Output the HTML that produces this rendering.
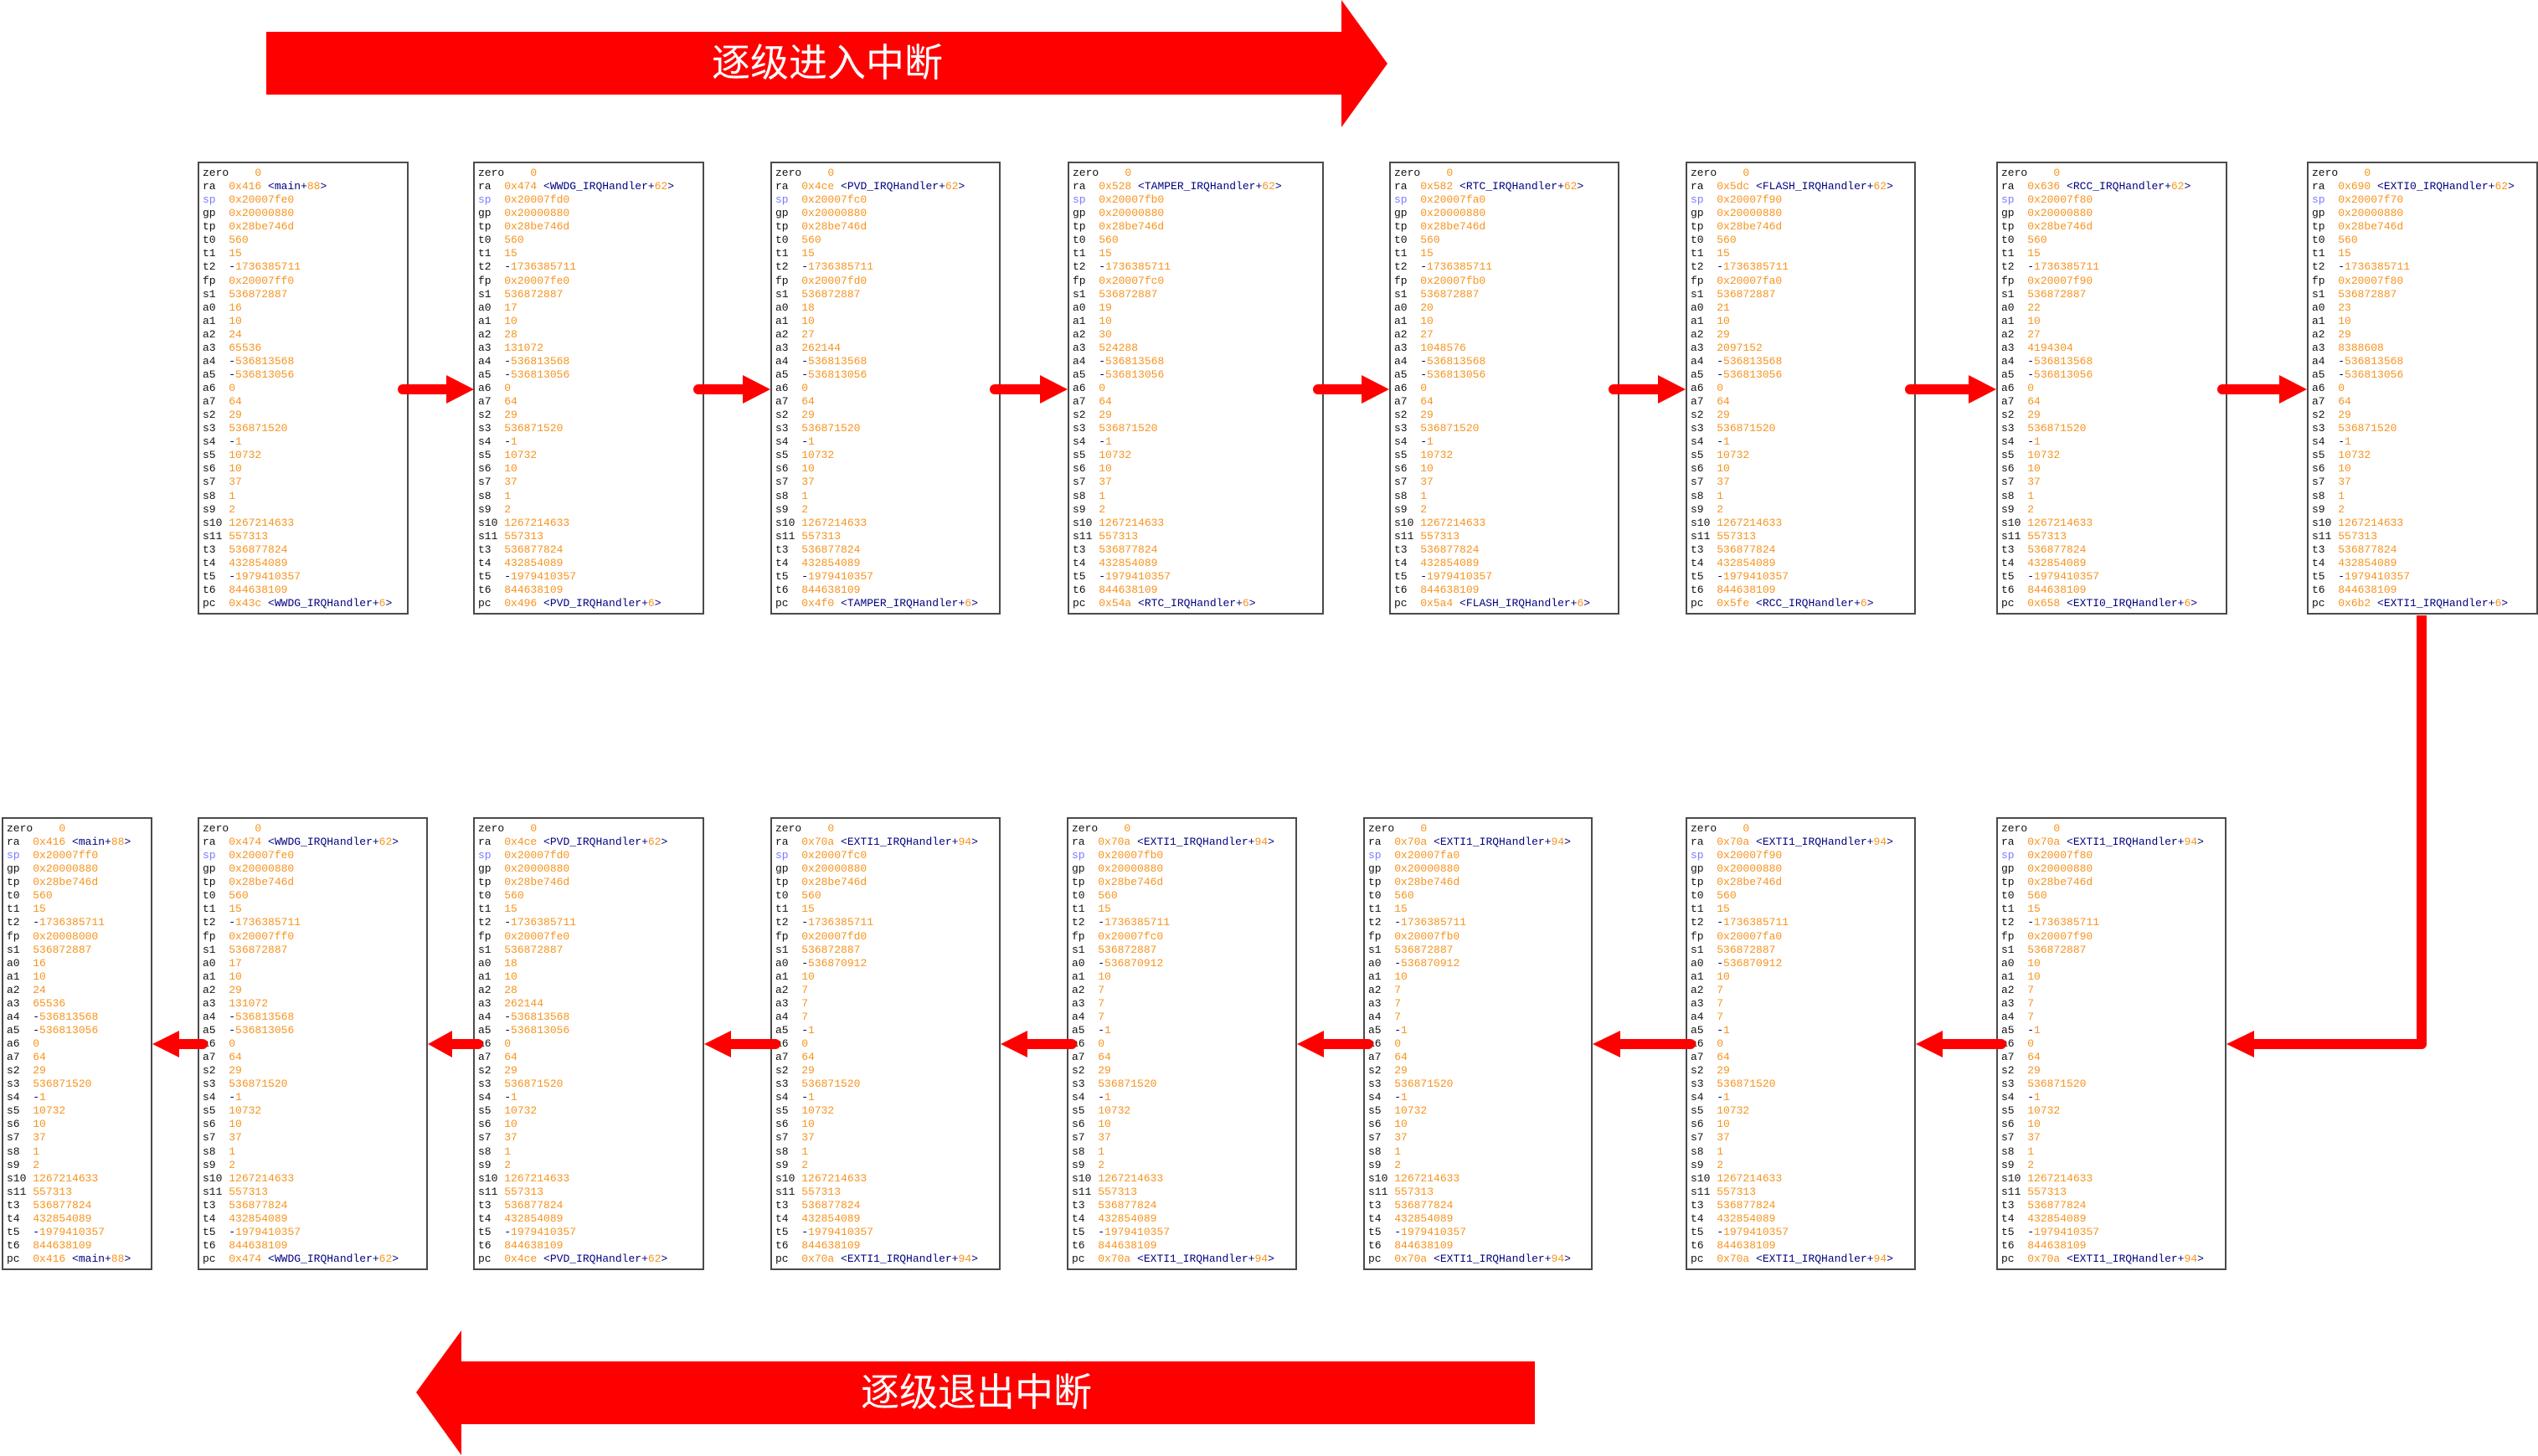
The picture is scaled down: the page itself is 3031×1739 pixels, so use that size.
<!DOCTYPE html>
<html><head><meta charset="utf-8">
<style>
html,body{margin:0;padding:0;background:#fff;}
body{width:3031px;height:1739px;position:relative;overflow:hidden;}
.p{position:absolute;box-sizing:border-box;height:541px;border:2px solid #4a4a4a;background:#fff;
font-family:"Liberation Mono","DejaVu Sans Mono",monospace;font-size:13px;line-height:16.06px;
white-space:pre;color:#111;padding:4px 0 0 4px;}
.t{top:193px}.b{top:976px}
i{font-style:normal;color:#f7931e}
b{font-weight:normal;color:#00007f}
u{text-decoration:none;color:#7b7bff}
svg{position:absolute;left:0;top:0}
.big{position:absolute;color:#fff;font-family:"Liberation Sans","Noto Sans CJK SC",sans-serif;font-size:46px;line-height:50px;white-space:nowrap;transform:translate(-50%,-50%);}
</style></head><body>

<!-- TOP ROW -->
<div class="p t" style="left:236px;width:252px">zero    <i>0</i>
ra  <i>0x416</i> <b>&lt;main+</b><i>88</i><b>&gt;</b>
<u>sp</u>  <i>0x20007fe0</i>
gp  <i>0x20000880</i>
tp  <i>0x28be746d</i>
t0  <i>560</i>
t1  <i>15</i>
t2  <b>-</b><i>1736385711</i>
fp  <i>0x20007ff0</i>
s1  <i>536872887</i>
a0  <i>16</i>
a1  <i>10</i>
a2  <i>24</i>
a3  <i>65536</i>
a4  <b>-</b><i>536813568</i>
a5  <b>-</b><i>536813056</i>
a6  <i>0</i>
a7  <i>64</i>
s2  <i>29</i>
s3  <i>536871520</i>
s4  <b>-</b><i>1</i>
s5  <i>10732</i>
s6  <i>10</i>
s7  <i>37</i>
s8  <i>1</i>
s9  <i>2</i>
s10 <i>1267214633</i>
s11 <i>557313</i>
t3  <i>536877824</i>
t4  <i>432854089</i>
t5  <b>-</b><i>1979410357</i>
t6  <i>844638109</i>
pc  <i>0x43c</i> <b>&lt;WWDG_IRQHandler+</b><i>6</i><b>&gt;</b></div>

<div class="p t" style="left:565px;width:276px">zero    <i>0</i>
ra  <i>0x474</i> <b>&lt;WWDG_IRQHandler+</b><i>62</i><b>&gt;</b>
<u>sp</u>  <i>0x20007fd0</i>
gp  <i>0x20000880</i>
tp  <i>0x28be746d</i>
t0  <i>560</i>
t1  <i>15</i>
t2  <b>-</b><i>1736385711</i>
fp  <i>0x20007fe0</i>
s1  <i>536872887</i>
a0  <i>17</i>
a1  <i>10</i>
a2  <i>28</i>
a3  <i>131072</i>
a4  <b>-</b><i>536813568</i>
a5  <b>-</b><i>536813056</i>
a6  <i>0</i>
a7  <i>64</i>
s2  <i>29</i>
s3  <i>536871520</i>
s4  <b>-</b><i>1</i>
s5  <i>10732</i>
s6  <i>10</i>
s7  <i>37</i>
s8  <i>1</i>
s9  <i>2</i>
s10 <i>1267214633</i>
s11 <i>557313</i>
t3  <i>536877824</i>
t4  <i>432854089</i>
t5  <b>-</b><i>1979410357</i>
t6  <i>844638109</i>
pc  <i>0x496</i> <b>&lt;PVD_IRQHandler+</b><i>6</i><b>&gt;</b></div>

<div class="p t" style="left:920px;width:275px">zero    <i>0</i>
ra  <i>0x4ce</i> <b>&lt;PVD_IRQHandler+</b><i>62</i><b>&gt;</b>
<u>sp</u>  <i>0x20007fc0</i>
gp  <i>0x20000880</i>
tp  <i>0x28be746d</i>
t0  <i>560</i>
t1  <i>15</i>
t2  <b>-</b><i>1736385711</i>
fp  <i>0x20007fd0</i>
s1  <i>536872887</i>
a0  <i>18</i>
a1  <i>10</i>
a2  <i>27</i>
a3  <i>262144</i>
a4  <b>-</b><i>536813568</i>
a5  <b>-</b><i>536813056</i>
a6  <i>0</i>
a7  <i>64</i>
s2  <i>29</i>
s3  <i>536871520</i>
s4  <b>-</b><i>1</i>
s5  <i>10732</i>
s6  <i>10</i>
s7  <i>37</i>
s8  <i>1</i>
s9  <i>2</i>
s10 <i>1267214633</i>
s11 <i>557313</i>
t3  <i>536877824</i>
t4  <i>432854089</i>
t5  <b>-</b><i>1979410357</i>
t6  <i>844638109</i>
pc  <i>0x4f0</i> <b>&lt;TAMPER_IRQHandler+</b><i>6</i><b>&gt;</b></div>

<div class="p t" style="left:1275px;width:306px">zero    <i>0</i>
ra  <i>0x528</i> <b>&lt;TAMPER_IRQHandler+</b><i>62</i><b>&gt;</b>
<u>sp</u>  <i>0x20007fb0</i>
gp  <i>0x20000880</i>
tp  <i>0x28be746d</i>
t0  <i>560</i>
t1  <i>15</i>
t2  <b>-</b><i>1736385711</i>
fp  <i>0x20007fc0</i>
s1  <i>536872887</i>
a0  <i>19</i>
a1  <i>10</i>
a2  <i>30</i>
a3  <i>524288</i>
a4  <b>-</b><i>536813568</i>
a5  <b>-</b><i>536813056</i>
a6  <i>0</i>
a7  <i>64</i>
s2  <i>29</i>
s3  <i>536871520</i>
s4  <b>-</b><i>1</i>
s5  <i>10732</i>
s6  <i>10</i>
s7  <i>37</i>
s8  <i>1</i>
s9  <i>2</i>
s10 <i>1267214633</i>
s11 <i>557313</i>
t3  <i>536877824</i>
t4  <i>432854089</i>
t5  <b>-</b><i>1979410357</i>
t6  <i>844638109</i>
pc  <i>0x54a</i> <b>&lt;RTC_IRQHandler+</b><i>6</i><b>&gt;</b></div>

<div class="p t" style="left:1659px;width:275px">zero    <i>0</i>
ra  <i>0x582</i> <b>&lt;RTC_IRQHandler+</b><i>62</i><b>&gt;</b>
<u>sp</u>  <i>0x20007fa0</i>
gp  <i>0x20000880</i>
tp  <i>0x28be746d</i>
t0  <i>560</i>
t1  <i>15</i>
t2  <b>-</b><i>1736385711</i>
fp  <i>0x20007fb0</i>
s1  <i>536872887</i>
a0  <i>20</i>
a1  <i>10</i>
a2  <i>27</i>
a3  <i>1048576</i>
a4  <b>-</b><i>536813568</i>
a5  <b>-</b><i>536813056</i>
a6  <i>0</i>
a7  <i>64</i>
s2  <i>29</i>
s3  <i>536871520</i>
s4  <b>-</b><i>1</i>
s5  <i>10732</i>
s6  <i>10</i>
s7  <i>37</i>
s8  <i>1</i>
s9  <i>2</i>
s10 <i>1267214633</i>
s11 <i>557313</i>
t3  <i>536877824</i>
t4  <i>432854089</i>
t5  <b>-</b><i>1979410357</i>
t6  <i>844638109</i>
pc  <i>0x5a4</i> <b>&lt;FLASH_IRQHandler+</b><i>6</i><b>&gt;</b></div>

<div class="p t" style="left:2013px;width:275px">zero    <i>0</i>
ra  <i>0x5dc</i> <b>&lt;FLASH_IRQHandler+</b><i>62</i><b>&gt;</b>
<u>sp</u>  <i>0x20007f90</i>
gp  <i>0x20000880</i>
tp  <i>0x28be746d</i>
t0  <i>560</i>
t1  <i>15</i>
t2  <b>-</b><i>1736385711</i>
fp  <i>0x20007fa0</i>
s1  <i>536872887</i>
a0  <i>21</i>
a1  <i>10</i>
a2  <i>29</i>
a3  <i>2097152</i>
a4  <b>-</b><i>536813568</i>
a5  <b>-</b><i>536813056</i>
a6  <i>0</i>
a7  <i>64</i>
s2  <i>29</i>
s3  <i>536871520</i>
s4  <b>-</b><i>1</i>
s5  <i>10732</i>
s6  <i>10</i>
s7  <i>37</i>
s8  <i>1</i>
s9  <i>2</i>
s10 <i>1267214633</i>
s11 <i>557313</i>
t3  <i>536877824</i>
t4  <i>432854089</i>
t5  <b>-</b><i>1979410357</i>
t6  <i>844638109</i>
pc  <i>0x5fe</i> <b>&lt;RCC_IRQHandler+</b><i>6</i><b>&gt;</b></div>

<div class="p t" style="left:2384px;width:276px">zero    <i>0</i>
ra  <i>0x636</i> <b>&lt;RCC_IRQHandler+</b><i>62</i><b>&gt;</b>
<u>sp</u>  <i>0x20007f80</i>
gp  <i>0x20000880</i>
tp  <i>0x28be746d</i>
t0  <i>560</i>
t1  <i>15</i>
t2  <b>-</b><i>1736385711</i>
fp  <i>0x20007f90</i>
s1  <i>536872887</i>
a0  <i>22</i>
a1  <i>10</i>
a2  <i>27</i>
a3  <i>4194304</i>
a4  <b>-</b><i>536813568</i>
a5  <b>-</b><i>536813056</i>
a6  <i>0</i>
a7  <i>64</i>
s2  <i>29</i>
s3  <i>536871520</i>
s4  <b>-</b><i>1</i>
s5  <i>10732</i>
s6  <i>10</i>
s7  <i>37</i>
s8  <i>1</i>
s9  <i>2</i>
s10 <i>1267214633</i>
s11 <i>557313</i>
t3  <i>536877824</i>
t4  <i>432854089</i>
t5  <b>-</b><i>1979410357</i>
t6  <i>844638109</i>
pc  <i>0x658</i> <b>&lt;EXTI0_IRQHandler+</b><i>6</i><b>&gt;</b></div>

<div class="p t" style="left:2755px;width:276px">zero    <i>0</i>
ra  <i>0x690</i> <b>&lt;EXTI0_IRQHandler+</b><i>62</i><b>&gt;</b>
<u>sp</u>  <i>0x20007f70</i>
gp  <i>0x20000880</i>
tp  <i>0x28be746d</i>
t0  <i>560</i>
t1  <i>15</i>
t2  <b>-</b><i>1736385711</i>
fp  <i>0x20007f80</i>
s1  <i>536872887</i>
a0  <i>23</i>
a1  <i>10</i>
a2  <i>29</i>
a3  <i>8388608</i>
a4  <b>-</b><i>536813568</i>
a5  <b>-</b><i>536813056</i>
a6  <i>0</i>
a7  <i>64</i>
s2  <i>29</i>
s3  <i>536871520</i>
s4  <b>-</b><i>1</i>
s5  <i>10732</i>
s6  <i>10</i>
s7  <i>37</i>
s8  <i>1</i>
s9  <i>2</i>
s10 <i>1267214633</i>
s11 <i>557313</i>
t3  <i>536877824</i>
t4  <i>432854089</i>
t5  <b>-</b><i>1979410357</i>
t6  <i>844638109</i>
pc  <i>0x6b2</i> <b>&lt;EXTI1_IRQHandler+</b><i>6</i><b>&gt;</b></div>

<!-- BOTTOM ROW -->
<div class="p b" style="left:2px;width:180px">zero    <i>0</i>
ra  <i>0x416</i> <b>&lt;main+</b><i>88</i><b>&gt;</b>
<u>sp</u>  <i>0x20007ff0</i>
gp  <i>0x20000880</i>
tp  <i>0x28be746d</i>
t0  <i>560</i>
t1  <i>15</i>
t2  <b>-</b><i>1736385711</i>
fp  <i>0x20008000</i>
s1  <i>536872887</i>
a0  <i>16</i>
a1  <i>10</i>
a2  <i>24</i>
a3  <i>65536</i>
a4  <b>-</b><i>536813568</i>
a5  <b>-</b><i>536813056</i>
a6  <i>0</i>
a7  <i>64</i>
s2  <i>29</i>
s3  <i>536871520</i>
s4  <b>-</b><i>1</i>
s5  <i>10732</i>
s6  <i>10</i>
s7  <i>37</i>
s8  <i>1</i>
s9  <i>2</i>
s10 <i>1267214633</i>
s11 <i>557313</i>
t3  <i>536877824</i>
t4  <i>432854089</i>
t5  <b>-</b><i>1979410357</i>
t6  <i>844638109</i>
pc  <i>0x416</i> <b>&lt;main+</b><i>88</i><b>&gt;</b></div>

<div class="p b" style="left:236px;width:275px">zero    <i>0</i>
ra  <i>0x474</i> <b>&lt;WWDG_IRQHandler+</b><i>62</i><b>&gt;</b>
<u>sp</u>  <i>0x20007fe0</i>
gp  <i>0x20000880</i>
tp  <i>0x28be746d</i>
t0  <i>560</i>
t1  <i>15</i>
t2  <b>-</b><i>1736385711</i>
fp  <i>0x20007ff0</i>
s1  <i>536872887</i>
a0  <i>17</i>
a1  <i>10</i>
a2  <i>29</i>
a3  <i>131072</i>
a4  <b>-</b><i>536813568</i>
a5  <b>-</b><i>536813056</i>
a6  <i>0</i>
a7  <i>64</i>
s2  <i>29</i>
s3  <i>536871520</i>
s4  <b>-</b><i>1</i>
s5  <i>10732</i>
s6  <i>10</i>
s7  <i>37</i>
s8  <i>1</i>
s9  <i>2</i>
s10 <i>1267214633</i>
s11 <i>557313</i>
t3  <i>536877824</i>
t4  <i>432854089</i>
t5  <b>-</b><i>1979410357</i>
t6  <i>844638109</i>
pc  <i>0x474</i> <b>&lt;WWDG_IRQHandler+</b><i>62</i><b>&gt;</b></div>

<div class="p b" style="left:565px;width:276px">zero    <i>0</i>
ra  <i>0x4ce</i> <b>&lt;PVD_IRQHandler+</b><i>62</i><b>&gt;</b>
<u>sp</u>  <i>0x20007fd0</i>
gp  <i>0x20000880</i>
tp  <i>0x28be746d</i>
t0  <i>560</i>
t1  <i>15</i>
t2  <b>-</b><i>1736385711</i>
fp  <i>0x20007fe0</i>
s1  <i>536872887</i>
a0  <i>18</i>
a1  <i>10</i>
a2  <i>28</i>
a3  <i>262144</i>
a4  <b>-</b><i>536813568</i>
a5  <b>-</b><i>536813056</i>
a6  <i>0</i>
a7  <i>64</i>
s2  <i>29</i>
s3  <i>536871520</i>
s4  <b>-</b><i>1</i>
s5  <i>10732</i>
s6  <i>10</i>
s7  <i>37</i>
s8  <i>1</i>
s9  <i>2</i>
s10 <i>1267214633</i>
s11 <i>557313</i>
t3  <i>536877824</i>
t4  <i>432854089</i>
t5  <b>-</b><i>1979410357</i>
t6  <i>844638109</i>
pc  <i>0x4ce</i> <b>&lt;PVD_IRQHandler+</b><i>62</i><b>&gt;</b></div>

<div class="p b" style="left:920px;width:275px">zero    <i>0</i>
ra  <i>0x70a</i> <b>&lt;EXTI1_IRQHandler+</b><i>94</i><b>&gt;</b>
<u>sp</u>  <i>0x20007fc0</i>
gp  <i>0x20000880</i>
tp  <i>0x28be746d</i>
t0  <i>560</i>
t1  <i>15</i>
t2  <b>-</b><i>1736385711</i>
fp  <i>0x20007fd0</i>
s1  <i>536872887</i>
a0  <b>-</b><i>536870912</i>
a1  <i>10</i>
a2  <i>7</i>
a3  <i>7</i>
a4  <i>7</i>
a5  <b>-</b><i>1</i>
a6  <i>0</i>
a7  <i>64</i>
s2  <i>29</i>
s3  <i>536871520</i>
s4  <b>-</b><i>1</i>
s5  <i>10732</i>
s6  <i>10</i>
s7  <i>37</i>
s8  <i>1</i>
s9  <i>2</i>
s10 <i>1267214633</i>
s11 <i>557313</i>
t3  <i>536877824</i>
t4  <i>432854089</i>
t5  <b>-</b><i>1979410357</i>
t6  <i>844638109</i>
pc  <i>0x70a</i> <b>&lt;EXTI1_IRQHandler+</b><i>94</i><b>&gt;</b></div>

<div class="p b" style="left:1274px;width:275px">zero    <i>0</i>
ra  <i>0x70a</i> <b>&lt;EXTI1_IRQHandler+</b><i>94</i><b>&gt;</b>
<u>sp</u>  <i>0x20007fb0</i>
gp  <i>0x20000880</i>
tp  <i>0x28be746d</i>
t0  <i>560</i>
t1  <i>15</i>
t2  <b>-</b><i>1736385711</i>
fp  <i>0x20007fc0</i>
s1  <i>536872887</i>
a0  <b>-</b><i>536870912</i>
a1  <i>10</i>
a2  <i>7</i>
a3  <i>7</i>
a4  <i>7</i>
a5  <b>-</b><i>1</i>
a6  <i>0</i>
a7  <i>64</i>
s2  <i>29</i>
s3  <i>536871520</i>
s4  <b>-</b><i>1</i>
s5  <i>10732</i>
s6  <i>10</i>
s7  <i>37</i>
s8  <i>1</i>
s9  <i>2</i>
s10 <i>1267214633</i>
s11 <i>557313</i>
t3  <i>536877824</i>
t4  <i>432854089</i>
t5  <b>-</b><i>1979410357</i>
t6  <i>844638109</i>
pc  <i>0x70a</i> <b>&lt;EXTI1_IRQHandler+</b><i>94</i><b>&gt;</b></div>

<div class="p b" style="left:1628px;width:274px">zero    <i>0</i>
ra  <i>0x70a</i> <b>&lt;EXTI1_IRQHandler+</b><i>94</i><b>&gt;</b>
<u>sp</u>  <i>0x20007fa0</i>
gp  <i>0x20000880</i>
tp  <i>0x28be746d</i>
t0  <i>560</i>
t1  <i>15</i>
t2  <b>-</b><i>1736385711</i>
fp  <i>0x20007fb0</i>
s1  <i>536872887</i>
a0  <b>-</b><i>536870912</i>
a1  <i>10</i>
a2  <i>7</i>
a3  <i>7</i>
a4  <i>7</i>
a5  <b>-</b><i>1</i>
a6  <i>0</i>
a7  <i>64</i>
s2  <i>29</i>
s3  <i>536871520</i>
s4  <b>-</b><i>1</i>
s5  <i>10732</i>
s6  <i>10</i>
s7  <i>37</i>
s8  <i>1</i>
s9  <i>2</i>
s10 <i>1267214633</i>
s11 <i>557313</i>
t3  <i>536877824</i>
t4  <i>432854089</i>
t5  <b>-</b><i>1979410357</i>
t6  <i>844638109</i>
pc  <i>0x70a</i> <b>&lt;EXTI1_IRQHandler+</b><i>94</i><b>&gt;</b></div>

<div class="p b" style="left:2013px;width:275px">zero    <i>0</i>
ra  <i>0x70a</i> <b>&lt;EXTI1_IRQHandler+</b><i>94</i><b>&gt;</b>
<u>sp</u>  <i>0x20007f90</i>
gp  <i>0x20000880</i>
tp  <i>0x28be746d</i>
t0  <i>560</i>
t1  <i>15</i>
t2  <b>-</b><i>1736385711</i>
fp  <i>0x20007fa0</i>
s1  <i>536872887</i>
a0  <b>-</b><i>536870912</i>
a1  <i>10</i>
a2  <i>7</i>
a3  <i>7</i>
a4  <i>7</i>
a5  <b>-</b><i>1</i>
a6  <i>0</i>
a7  <i>64</i>
s2  <i>29</i>
s3  <i>536871520</i>
s4  <b>-</b><i>1</i>
s5  <i>10732</i>
s6  <i>10</i>
s7  <i>37</i>
s8  <i>1</i>
s9  <i>2</i>
s10 <i>1267214633</i>
s11 <i>557313</i>
t3  <i>536877824</i>
t4  <i>432854089</i>
t5  <b>-</b><i>1979410357</i>
t6  <i>844638109</i>
pc  <i>0x70a</i> <b>&lt;EXTI1_IRQHandler+</b><i>94</i><b>&gt;</b></div>

<div class="p b" style="left:2384px;width:275px">zero    <i>0</i>
ra  <i>0x70a</i> <b>&lt;EXTI1_IRQHandler+</b><i>94</i><b>&gt;</b>
<u>sp</u>  <i>0x20007f80</i>
gp  <i>0x20000880</i>
tp  <i>0x28be746d</i>
t0  <i>560</i>
t1  <i>15</i>
t2  <b>-</b><i>1736385711</i>
fp  <i>0x20007f90</i>
s1  <i>536872887</i>
a0  <i>10</i>
a1  <i>10</i>
a2  <i>7</i>
a3  <i>7</i>
a4  <i>7</i>
a5  <b>-</b><i>1</i>
a6  <i>0</i>
a7  <i>64</i>
s2  <i>29</i>
s3  <i>536871520</i>
s4  <b>-</b><i>1</i>
s5  <i>10732</i>
s6  <i>10</i>
s7  <i>37</i>
s8  <i>1</i>
s9  <i>2</i>
s10 <i>1267214633</i>
s11 <i>557313</i>
t3  <i>536877824</i>
t4  <i>432854089</i>
t5  <b>-</b><i>1979410357</i>
t6  <i>844638109</i>
pc  <i>0x70a</i> <b>&lt;EXTI1_IRQHandler+</b><i>94</i><b>&gt;</b></div>

<svg width="3031" height="1739" viewBox="0 0 3031 1739">
<g fill="#ff0000" stroke="none">
<!-- big arrows -->
<polygon points="318,38 1602,38 1602,0 1657,76 1602,152 1602,113 318,113"/>
<polygon points="1833,1626 551,1626 551,1589 497,1663 551,1738 551,1701 1833,1701"/>
</g>
<g stroke="#ff0000" stroke-width="12" stroke-linecap="round" fill="none">
<line x1="481" y1="465" x2="535" y2="465"/>
<line x1="834" y1="465" x2="889" y2="465"/>
<line x1="1188" y1="465" x2="1244" y2="465"/>
<line x1="1574" y1="465" x2="1628" y2="465"/>
<line x1="1927" y1="465" x2="1982" y2="465"/>
<line x1="2281" y1="465" x2="2353" y2="465"/>
<line x1="2654" y1="465" x2="2724" y2="465"/>
<line x1="212" y1="1247" x2="242" y2="1247"/>
<line x1="538" y1="1247" x2="571" y2="1247"/>
<line x1="870" y1="1247" x2="926" y2="1247"/>
<line x1="1224" y1="1247" x2="1280" y2="1247"/>
<line x1="1578" y1="1247" x2="1634" y2="1247"/>
<line x1="1932" y1="1247" x2="2019" y2="1247"/>
<line x1="2316" y1="1247" x2="2390" y2="1247"/>
</g>
<polyline points="2892,735 2892,1247 2690,1247" stroke="#ff0000" stroke-width="12" fill="none" stroke-linejoin="round"/>
<g fill="#ff0000">
<polygon points="533,448 566,465 533,482"/>
<polygon points="887,448 920,465 887,482"/>
<polygon points="1242,448 1275,465 1242,482"/>
<polygon points="1626,448 1659,465 1626,482"/>
<polygon points="1980,448 2013,465 1980,482"/>
<polygon points="2351,448 2384,465 2351,482"/>
<polygon points="2722,448 2755,465 2722,482"/>
<polygon points="214,1231 182,1247 214,1263"/>
<polygon points="540,1231 511,1247 540,1263"/>
<polygon points="873,1231 841,1247 873,1263"/>
<polygon points="1227,1231 1195,1247 1227,1263"/>
<polygon points="1581,1231 1549,1247 1581,1263"/>
<polygon points="1935,1231 1902,1247 1935,1263"/>
<polygon points="2320,1231 2288,1247 2320,1263"/>
<polygon points="2692,1231 2659,1247 2692,1263"/>
</g>
</svg>

<div class="big" style="left:988px;top:75px">逐级进入中断</div>
<div class="big" style="left:1166px;top:1663px">逐级退出中断</div>
</body></html>
